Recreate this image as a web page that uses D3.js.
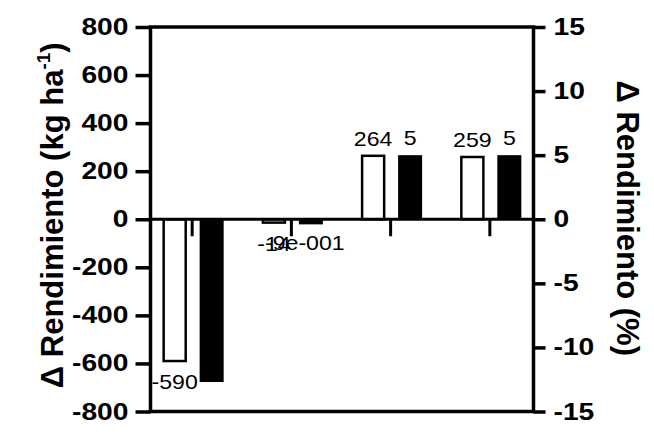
<!DOCTYPE html>
<html>
<head>
<meta charset="utf-8">
<script src="https://cdn.jsdelivr.net/npm/d3@7"></script>
<style>
  html, body { margin: 0; padding: 0; background: #fff; }
  svg { display: block; }
  text { font-family: "Liberation Sans", Arial, Helvetica, sans-serif; fill: #000; }
</style>
</head>
<body>
<svg id="chart" width="654" height="438"></svg>
<script>
// ---- data ----
const categories = ["1", "2", "3", "4"];
const series = ["kg", "pct"];
const yieldKg = [-590, -14, 264, 259];          // white bars, left axis (kg ha-1)
const yieldPct = [-12.7, -0.4, 5, 5];           // black bars, right axis (%)
const labelKg = ["-590", "-14", "264", "259"];
const labelPct = ["", "-9e-001", "5", "5"];
const leftTicks = [-800, -600, -400, -200, 0, 200, 400, 600, 800];
const rightTicks = [-15, -10, -5, 0, 5, 10, 15];

// ---- layout ----
const plot = { left: 150.5, right: 533.5, top: 27, bottom: 411.5 };
const svg = d3.select("#chart");

const yL = d3.scaleLinear().domain([-800, 800]).range([plot.bottom, plot.top]);
const yR = d3.scaleLinear().domain([-15, 15]).range([plot.bottom, plot.top]);
const x = d3.scalePoint().domain(categories).range([plot.left - 1.5, plot.right - 1.5]).padding(0.43);
const xs = d3.scaleBand().domain(series).range([-29, 32]).paddingInner(0.35);

function stretch(sel, k) {
  sel.each(function () {
    const len = this.getComputedTextLength();
    d3.select(this).attr("textLength", len * k).attr("lengthAdjust", "spacingAndGlyphs");
  });
}
const plain = d => String(d);

// frame
svg.append("rect")
  .attr("x", plot.left).attr("y", plot.top)
  .attr("width", plot.right - plot.left).attr("height", plot.bottom - plot.top)
  .attr("fill", "none").attr("stroke", "#000").attr("stroke-width", 3.5);

// bars
const rows = categories.map((c, i) => ({ c, kg: yieldKg[i], pct: yieldPct[i], lk: labelKg[i], lp: labelPct[i] }));

svg.append("g").selectAll("rect").data(rows).join("rect")
  .attr("x", d => x(d.c) + xs("kg") + 1)
  .attr("width", xs.bandwidth() - 2)
  .attr("y", d => Math.min(yL(d.kg), yL(0)))
  .attr("height", d => Math.abs(yL(d.kg) - yL(0)))
  .attr("fill", "#fff").attr("stroke", "#000").attr("stroke-width", 2.5);

svg.append("g").selectAll("rect").data(rows).join("rect")
  .attr("x", d => x(d.c) + xs("pct"))
  .attr("width", xs.bandwidth())
  .attr("y", d => Math.min(yR(d.pct), yR(0)))
  .attr("height", d => Math.abs(yR(d.pct) - yR(0)))
  .attr("fill", "#000");

// zero axis with ticks down
const xAxis = svg.append("g").attr("transform", `translate(0,${yL(0)})`)
  .call(d3.axisBottom(x).tickSize(17).tickFormat(""));
xAxis.select(".domain").attr("d", `M${plot.left},0H${plot.right}`).attr("stroke-width", 3);
xAxis.selectAll(".tick line").attr("stroke-width", 3);

// left axis
const lAx = svg.append("g").attr("transform", `translate(${plot.left},0)`)
  .call(d3.axisLeft(yL).tickValues(leftTicks).tickFormat(plain).tickSize(15).tickPadding(7));
lAx.select(".domain").remove();
lAx.selectAll(".tick line").attr("stroke-width", 3.5);
lAx.selectAll(".tick text")
  .attr("font-family", "Liberation Sans, Arial, sans-serif")
  .attr("font-size", 23.5).attr("font-weight", "bold").attr("fill", "#000");
stretch(lAx.selectAll(".tick text"), 1.2);

// right axis
const rAx = svg.append("g").attr("transform", `translate(${plot.right},0)`)
  .call(d3.axisRight(yR).tickValues(rightTicks).tickFormat(plain).tickSize(12).tickPadding(8));
rAx.select(".domain").remove();
rAx.selectAll(".tick line").attr("stroke-width", 3.5);
rAx.selectAll(".tick text")
  .attr("font-family", "Liberation Sans, Arial, sans-serif")
  .attr("font-size", 23.5).attr("font-weight", "bold").attr("fill", "#000");
stretch(rAx.selectAll(".tick text"), 1.2);

// value labels
const lab1 = svg.append("g").selectAll("text").data(rows).join("text")
  .attr("x", d => x(d.c) + xs("kg") + xs.bandwidth() / 2)
  .attr("y", d => d.kg >= 0 ? yL(d.kg) - 10 : yL(d.kg) + 28)
  .attr("text-anchor", "middle").attr("font-size", 21)
  .text(d => d.lk);
stretch(lab1, 1.1);
const lab2 = svg.append("g").selectAll("text").data(rows.filter(d => d.lp !== "")).join("text")
  .attr("x", d => x(d.c) + xs("pct") + xs.bandwidth() / 2 - (d.pct < 0 ? 6 : 0))
  .attr("y", d => d.pct >= 0 ? yR(d.pct) - 10 : yL(0) + 31)
  .attr("text-anchor", "middle").attr("font-size", 21)
  .text(d => d.lp);
stretch(lab2, 1.1);

// titles
const tL = svg.append("text")
  .attr("transform", `translate(63,${(plot.top + plot.bottom) / 2 - 4}) rotate(-90)`)
  .attr("text-anchor", "middle").attr("font-size", 31).attr("font-weight", "bold");
tL.append("tspan").text("\u0394 Rendimiento (kg ha");
tL.append("tspan").attr("font-size", 19).attr("dy", -13).text("-1");
tL.append("tspan").attr("dy", 13).text(")");

svg.append("text")
  .attr("transform", `translate(617,${(plot.top + plot.bottom) / 2 - 1}) rotate(90)`)
  .attr("text-anchor", "middle").attr("font-size", 31).attr("font-weight", "bold")
  .text("\u0394 Rendimiento (%)");
</script>
</body>
</html>
